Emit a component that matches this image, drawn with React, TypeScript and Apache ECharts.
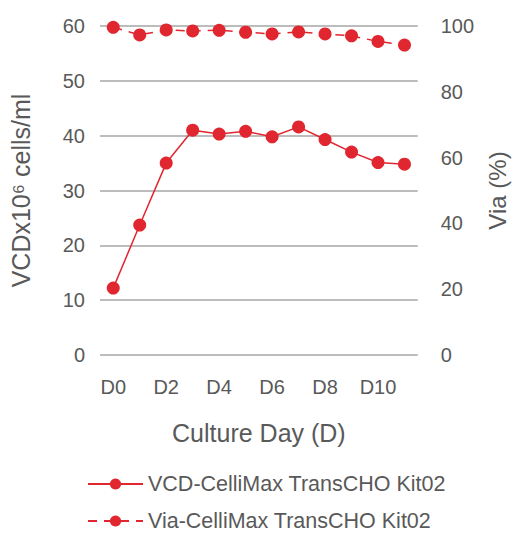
import React, { useEffect, useRef } from "react";
import * as echarts from "echarts";

const days = ["D0", "D1", "D2", "D3", "D4", "D5", "D6", "D7", "D8", "D9", "D10", "D11"];
const vcd = [12.2, 23.7, 35.0, 41.0, 40.3, 40.8, 39.8, 41.6, 39.3, 37.0, 35.1, 34.8];
const via = [99.6, 97.3, 98.8, 98.5, 98.7, 98.1, 97.6, 98.2, 97.6, 97.0, 95.3, 94.2];
const vcdName = "VCD-CelliMax TransCHO Kit02";
const viaName = "Via-CelliMax TransCHO Kit02";

const RED = "#e0262f";
const TEXT = "#595959";
const FONT = "Liberation Sans";

const legendBase = {
  orient: "horizontal",
  left: 82,
  itemWidth: 55,
  itemHeight: 14,
  textStyle: { fontFamily: FONT, fontSize: 21.5, color: TEXT },
};

export default function App() {
  const ref = useRef<HTMLDivElement>(null);
  useEffect(() => {
    if (!ref.current) return;
    const chart = echarts.init(ref.current, undefined, { renderer: "svg" });
    chart.setOption({
      animation: false,
      textStyle: { fontFamily: FONT, color: TEXT },
      grid: { left: 100, right: 87, top: 26, bottom: 178 },
      legend: [
        { ...legendBase, top: 468, data: [vcdName] },
        { ...legendBase, top: 505, data: [viaName] },
      ],
      xAxis: {
        type: "category",
        data: days,
        boundaryGap: true,
        axisLine: { show: false },
        axisTick: { show: false },
        axisLabel: { interval: 1, fontSize: 20, color: TEXT, fontFamily: FONT, margin: 22 },
        name: "Culture Day (D)",
        nameLocation: "middle",
        nameGap: 65,
        nameTextStyle: { fontSize: 25, color: TEXT, fontFamily: FONT },
      },
      yAxis: [
        {
          type: "value",
          min: 0,
          max: 60,
          interval: 10,
          axisLine: { show: false },
          axisTick: { show: false },
          axisLabel: { fontSize: 20, color: TEXT, fontFamily: FONT, margin: 15 },
          splitLine: { lineStyle: { color: "#a6a6a6", width: 1.5 } },
          name: "VCDx10⁶ cells/ml",
          nameLocation: "middle",
          nameGap: 67,
          nameTextStyle: { fontSize: 25, color: TEXT, fontFamily: FONT },
        },
        {
          type: "value",
          min: 0,
          max: 100,
          interval: 20,
          position: "right",
          axisLine: { show: false },
          axisTick: { show: false },
          axisLabel: { fontSize: 20, color: TEXT, fontFamily: FONT, margin: 23 },
          splitLine: { show: false },
          name: "Via (%)",
          nameLocation: "middle",
          nameGap: 62,
          nameRotate: 90,
          nameTextStyle: { fontSize: 24, color: TEXT, fontFamily: FONT },
        },
      ],
      series: [
        {
          name: vcdName,
          type: "line",
          yAxisIndex: 0,
          data: vcd,
          symbol: "circle",
          symbolSize: 13,
          itemStyle: { color: RED },
          lineStyle: { color: RED, width: 1.5 },
        },
        {
          name: viaName,
          type: "line",
          yAxisIndex: 1,
          data: via,
          symbol: "circle",
          symbolSize: 13,
          itemStyle: { color: RED },
          lineStyle: { color: RED, width: 1.5, type: [9, 7] },
        },
      ],
    });
    return () => chart.dispose();
  }, []);
  return <div ref={ref} style={{ width: 517, height: 533, position: "absolute", left: 0, top: 0 }} />;
}
